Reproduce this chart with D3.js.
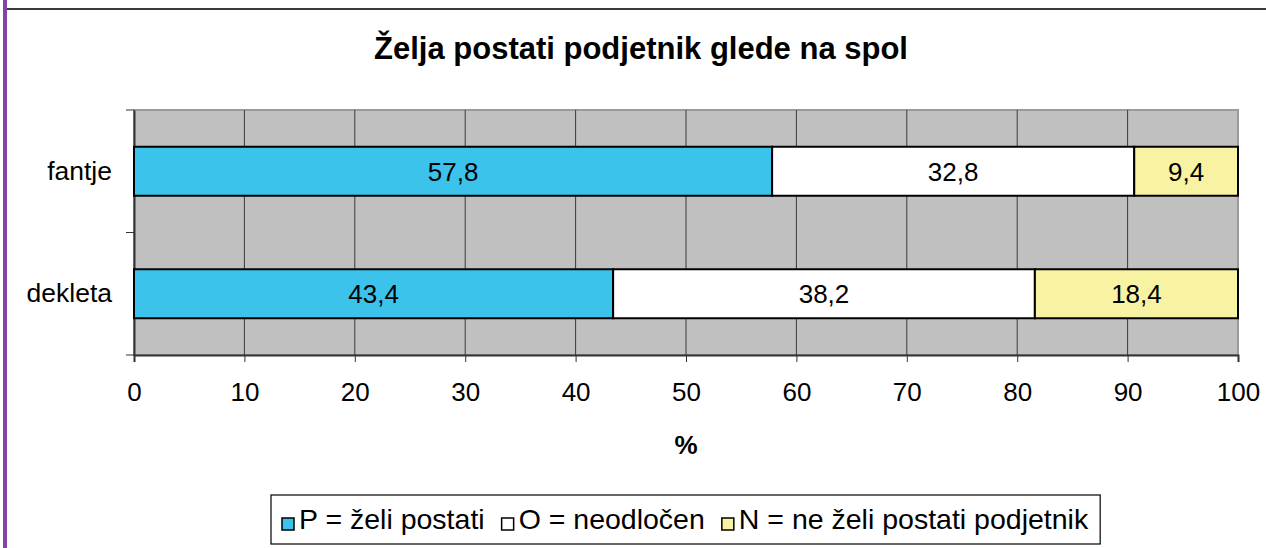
<!DOCTYPE html>
<html>
<head>
  <meta charset="utf-8">
  <script src="https://d3js.org/d3.v7.min.js"></script>
  <style>
    body { margin: 0; background: #fff; font-family: 'Liberation Sans', Arial, sans-serif; }
  </style>
</head>
<body>
  <div id="chart"></div>
  <script>
    // data
    var categories = ["fantje", "dekleta"];
    var seriesNames = ["P = želi postati", "O = neodločen", "N = ne želi postati podjetnik"];
    var seriesColors = ["#3cc3ec", "#ffffff", "#f7f3a3"];
    var valuesP = [57.8, 43.4];
    var valuesO = [32.8, 38.2];
    var valuesN = [9.4, 18.4];
    var xTicks = [0, 10, 20, 30, 40, 50, 60, 70, 80, 90, 100];

    var W = 1266, H = 548;
    var plot = { left: 134, right: 1238, top: 110, bottom: 355 };
    var font = "'Liberation Sans', Arial, sans-serif";

    var svg = d3.select("#chart").append("svg")
      .attr("width", W).attr("height", H);

    // frame bits of the surrounding document
    svg.append("rect").attr("x", 3).attr("y", 0).attr("width", 4).attr("height", H).attr("fill", "#8244a6");
    svg.append("rect").attr("x", 7).attr("y", 8).attr("width", W - 7).attr("height", 2).attr("fill", "#3a3a3a");

    // title
    svg.append("text")
      .attr("x", 641).attr("y", 59)
      .attr("text-anchor", "middle")
      .style("font-size", "31px").style("font-weight", "bold")
      .text("Želja postati podjetnik glede na spol");

    var x = d3.scaleLinear().domain([0, 100]).range([plot.left, plot.right]);
    var y = d3.scaleBand().domain(categories).range([plot.top, plot.bottom]).padding(0);

    // plot background
    svg.append("rect")
      .attr("x", plot.left).attr("y", plot.top)
      .attr("width", plot.right - plot.left).attr("height", plot.bottom - plot.top)
      .attr("fill", "#c0c0c0").attr("stroke", "#9a9a9a").attr("stroke-width", 2);

    // vertical gridlines
    svg.append("g").selectAll("line")
      .data(xTicks.slice(1, -1))
      .enter().append("line")
      .attr("x1", function (d) { return x(d); }).attr("x2", function (d) { return x(d); })
      .attr("y1", plot.top).attr("y2", plot.bottom)
      .attr("stroke", "#3a3a3a").attr("stroke-width", 1);

    // x axis
    var xAxis = svg.append("g")
      .attr("transform", "translate(0," + plot.bottom + ")")
      .call(d3.axisBottom(x).tickValues(xTicks).tickSize(7).tickPadding(21));
    xAxis.select(".domain").attr("stroke", "#333").attr("stroke-width", 2);
    xAxis.selectAll(".tick line").attr("stroke", "#333");
    xAxis.selectAll(".tick text").style("font-size", "26px").style("font-family", font).attr("fill", "#000");

    // y axis
    var yAxis = svg.append("g")
      .attr("transform", "translate(" + plot.left + ",0)")
      .call(d3.axisLeft(y).tickSize(0).tickPadding(22));
    yAxis.select(".domain").attr("stroke", "#333").attr("stroke-width", 2);
    yAxis.selectAll(".tick text").style("font-size", "26.5px").style("font-family", font).attr("fill", "#000");
    // category boundary ticks
    var bounds = [plot.top, plot.top + y.step(), plot.bottom];
    svg.append("g").selectAll("line").data(bounds).enter().append("line")
      .attr("x1", plot.left - 8).attr("x2", plot.left)
      .attr("y1", function (d) { return d; }).attr("y2", function (d) { return d; })
      .attr("stroke", "#333").attr("stroke-width", 1);

    // stacked bars
    var rows = categories.map(function (c, i) {
      return { cat: c, P: valuesP[i], O: valuesO[i], N: valuesN[i] };
    });
    var stack = d3.stack().keys(["P", "O", "N"])(rows);
    var barH = y.bandwidth() * 0.4;

    var layers = svg.append("g").selectAll("g")
      .data(stack).enter().append("g")
      .attr("fill", function (d, i) { return seriesColors[i]; });

    layers.selectAll("rect")
      .data(function (d) { return d; })
      .enter().append("rect")
      .attr("x", function (d) { return x(d[0]); })
      .attr("width", function (d) { return x(d[1]) - x(d[0]); })
      .attr("y", function (d) { return y(d.data.cat) + (y.bandwidth() - barH) / 2; })
      .attr("height", barH)
      .attr("stroke", "#000").attr("stroke-width", 2);

    layers.selectAll("text")
      .data(function (d) { return d; })
      .enter().append("text")
      .attr("x", function (d) { return (x(d[0]) + x(d[1])) / 2; })
      .attr("y", function (d) { return y(d.data.cat) + y.bandwidth() / 2; })
      .attr("dy", "0.36em")
      .attr("text-anchor", "middle")
      .attr("fill", "#000")
      .style("font-size", "26px")
      .text(function (d) { return d3.format(".1f")(d[1] - d[0]).replace(".", ","); });

    // x axis title
    svg.append("text")
      .attr("x", 686).attr("y", 454)
      .attr("text-anchor", "middle")
      .style("font-size", "26px").style("font-weight", "bold")
      .text("%");

    // legend
    var legend = svg.append("g");
    var box = legend.append("rect")
      .attr("x", 271).attr("y", 495).attr("height", 49)
      .attr("fill", "#fff").attr("stroke", "#000").attr("stroke-width", 1.2);
    var lx = 282;
    seriesNames.forEach(function (name, i) {
      legend.append("rect")
        .attr("x", lx).attr("y", 518).attr("width", 12).attr("height", 12)
        .attr("fill", seriesColors[i]).attr("stroke", "#000").attr("stroke-width", 1.5);
      var t = legend.append("text")
        .attr("x", lx + 17).attr("y", 529)
        .style("font-size", "28.5px")
        .text(name);
      lx += 17 + t.node().getComputedTextLength() + 17;
    });
    box.attr("width", lx - 17 - 271 + 12);
  </script>
</body>
</html>
